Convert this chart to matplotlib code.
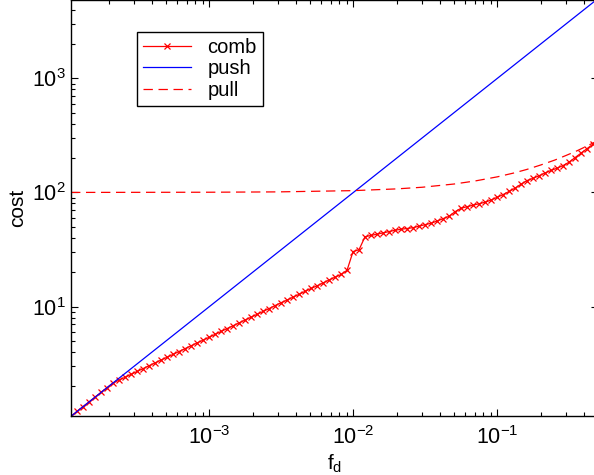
import matplotlib
matplotlib.use("Agg")
import matplotlib.pyplot as plt
from matplotlib.ticker import LogLocator, LogFormatterMathtext, NullFormatter

plt.rcParams['font.family'] = ['Liberation Sans', 'DejaVu Sans']
plt.rcParams['mathtext.fontset'] = 'custom'
plt.rcParams['mathtext.rm'] = 'Liberation Sans'
plt.rcParams['mathtext.it'] = 'Liberation Sans'
plt.rcParams['mathtext.default'] = 'regular'

# ---------------- data ----------------
comb_x = [
    1.094e-4, 1.204e-4, 1.325e-4, 1.459e-4, 1.606e-4, 1.767e-4, 1.945e-4, 2.141e-4,
    2.357e-4, 2.594e-4, 2.856e-4, 3.143e-4, 3.460e-4, 3.808e-4, 4.191e-4, 4.613e-4,
    5.078e-4, 5.589e-4, 6.152e-4, 6.772e-4, 7.453e-4, 8.204e-4, 9.030e-4, 9.939e-4,
    1.094e-3, 1.204e-3, 1.325e-3, 1.459e-3, 1.606e-3, 1.767e-3, 1.945e-3, 2.141e-3,
    2.357e-3, 2.594e-3, 2.856e-3, 3.143e-3, 3.460e-3, 3.808e-3, 4.191e-3, 4.613e-3,
    5.078e-3, 5.589e-3, 6.152e-3, 6.772e-3, 7.453e-3, 8.204e-3, 9.030e-3, 9.939e-3,
    1.094e-2, 1.204e-2, 1.325e-2, 1.459e-2, 1.606e-2, 1.767e-2, 1.945e-2, 2.141e-2,
    2.357e-2, 2.594e-2, 2.856e-2, 3.143e-2, 3.460e-2, 3.808e-2, 4.191e-2, 4.613e-2,
    5.078e-2, 5.589e-2, 6.152e-2, 6.772e-2, 7.453e-2, 8.204e-2, 9.030e-2, 9.939e-2,
    1.094e-1, 1.204e-1, 1.325e-1, 1.459e-1, 1.606e-1, 1.767e-1, 1.945e-1, 2.141e-1,
    2.357e-1, 2.594e-1, 2.856e-1, 3.143e-1, 3.460e-1, 3.808e-1, 4.191e-1, 4.613e-1,
    5.078e-1,
]
comb_y = [
    1.09, 1.21, 1.33, 1.46, 1.61, 1.77, 1.95, 2.14,
    2.27, 2.40, 2.55, 2.70, 2.86, 3.03, 3.21, 3.40,
    3.60, 3.81, 4.04, 4.28, 4.53, 4.80, 5.08, 5.38,
    5.71, 6.05, 6.41, 6.79, 7.19, 7.62, 8.07, 8.55,
    9.06, 9.60, 10.2, 10.8, 11.4, 12.1, 12.8, 13.6,
    14.4, 15.2, 16.1, 17.1, 18.1, 19.1, 20.8, 30.3,
    31.5, 40.9, 42.0, 43.1, 44.2, 45.4, 46.6, 47.6,
    48.3, 49.1, 50.6, 52.2, 53.7, 56.1, 58.9, 61.8,
    67.8, 72.6, 75.0, 77.3, 79.6, 82.0, 85.8, 90.6,
    95.7, 102, 109, 118, 127, 133, 140, 148,
    156, 163, 172, 184, 202, 221, 242, 265,
    289,
]
push_x = [1.094e-4, 1e-3, 1e-2, 1e-1, 5.0e-1]
push_y = [1.094, 10, 100, 1000, 5000]
pull_x = [1.094e-4, 1e-3, 3e-3, 1e-2, 2e-2, 3e-2, 5e-2, 7e-2, 1e-1, 1.3e-1,
          1.6e-1, 2e-1, 2.5e-1, 3e-1, 3.5e-1, 4e-1, 4.5e-1, 5e-1]
pull_y = [100, 100.4, 101.1, 103.7, 107.4, 111, 118.5, 126, 137, 148,
          159, 174, 192, 211, 229, 248, 267, 285]

series_labels = ['comb', 'push', 'pull']
x_label = 'f$_d$'
y_label = 'cost'

# ---------------- figure ----------------
fig = plt.figure(figsize=(5.94, 4.75), dpi=100)
ax = fig.add_axes([71/594, 59/475, 527.1/594, 416/475])

ax.plot(comb_x, comb_y, color='#ff0000', lw=0.9, marker='x', ms=4.3, mew=0.9,
        label=series_labels[0])
ax.plot(push_x, push_y, color='#0000ff', lw=0.9, label=series_labels[1])
ln, = ax.plot(pull_x, pull_y, color='#ff0000', lw=0.9, label=series_labels[2])
ln.set_dashes((7.5, 4.5))

ax.set_xscale('log')
ax.set_yscale('log')
ax.set_xlim(1.094e-4, 0.5)
ax.set_ylim(1.1, 4850)

ax.xaxis.set_major_locator(LogLocator(base=10, numticks=20))
ax.yaxis.set_major_locator(LogLocator(base=10, numticks=20))
ax.xaxis.set_minor_locator(LogLocator(base=10, subs=range(2, 10), numticks=20))
ax.yaxis.set_minor_locator(LogLocator(base=10, subs=range(2, 10), numticks=20))
ax.xaxis.set_major_formatter(LogFormatterMathtext())
ax.yaxis.set_major_formatter(LogFormatterMathtext())
ax.xaxis.set_minor_formatter(NullFormatter())
ax.yaxis.set_minor_formatter(NullFormatter())

ax.tick_params(which='both', direction='in', top=True, right=True, labelsize=15.5,
               width=0.8, colors='black')
ax.tick_params(which='major', length=5)
ax.tick_params(which='minor', length=3)
ax.tick_params(axis='x', pad=7)
ax.tick_params(axis='y', pad=4)
for s in ax.spines.values():
    s.set_linewidth(1.0)
    s.set_color('black')

ax.set_xlabel(x_label, fontsize=15, labelpad=3)
ax.set_ylabel(y_label, fontsize=15, labelpad=3)

leg = ax.legend(loc='upper left', bbox_to_anchor=(0.125, 0.923), fontsize=14.5,
                frameon=True, fancybox=False, framealpha=1, edgecolor='black',
                handlelength=2.4, handletextpad=0.8, labelspacing=0.12,
                borderpad=0.3, borderaxespad=0)
leg.get_frame().set_linewidth(1.0)

fig.savefig('out.png', dpi=100)
